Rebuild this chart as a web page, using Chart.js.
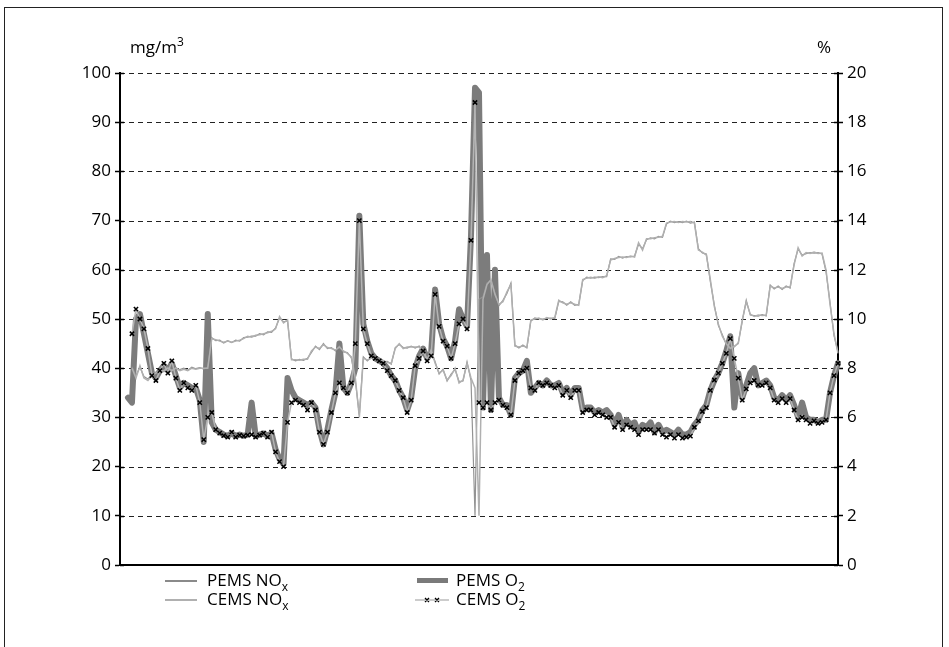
<!DOCTYPE html>
<html>
<head>
<meta charset="utf-8">
<script src="https://cdn.jsdelivr.net/npm/chart.js@4/dist/chart.umd.min.js"></script>
<style>
  html,body{margin:0;padding:0;background:#fff;}
  #wrap{position:relative;width:949px;height:647px;overflow:hidden;font-family:"Open Sans",sans-serif;color:#000;}
  #frame{position:absolute;left:4px;top:7px;width:939px;height:660px;border:1px solid #222;box-sizing:border-box;}
  canvas{position:absolute;left:0;top:0;}
  .lbl{position:absolute;font-size:17px;line-height:20px;white-space:nowrap;}
  .lbl sup{font-size:12px;vertical-align:7px;line-height:0;}
  .lbl sub{font-size:12px;vertical-align:-5px;line-height:0;}
  .sw{position:absolute;}
</style>
</head>
<body>
<div id="wrap">
  <div id="frame"></div>
  <canvas id="c" width="949" height="647"></canvas>
  <div class="lbl" style="left:130px;top:37px;">mg/m<sup>3</sup></div>
  <div class="lbl" style="left:817px;top:37px;">%</div>
  <div class="sw" style="left:165px;top:580px;width:32px;height:1.5px;background:#8a8a8a;"></div>
  <div class="lbl" style="left:207px;top:570px;">PEMS NO<sub>x</sub></div>
  <div class="sw" style="left:165px;top:599px;width:32px;height:1.5px;background:#b0b0b0;"></div>
  <div class="lbl" style="left:207px;top:589px;">CEMS NO<sub>x</sub></div>
  <div class="sw" style="left:417px;top:578px;width:31px;height:5px;background:#7a7a7a;"></div>
  <div class="lbl" style="left:456px;top:570px;">PEMS O<sub>2</sub></div>
  <svg class="sw" style="left:415px;top:594px;" width="36" height="12">
    <line x1="0" y1="6" x2="34" y2="6" stroke="#999" stroke-width="1.2"/>
    <path d="M10 4 L14 8 M14 4 L10 8 M20 4 L24 8 M24 4 L20 8" stroke="#000" stroke-width="1.3"/>
  </svg>
  <div class="lbl" style="left:456px;top:589px;">CEMS O<sub>2</sub></div>
</div>
<script>
// ---- data (x = sample index across the measurement period) ----
const samples = Array.from({length:181}, (_, i) => i);

const leftTicks  = [0,10,20,30,40,50,60,70,80,90,100];   // mg/m3
const rightTicks = [0,2,4,6,8,10,12,14,16,18,20];        // %

const pemsNOx = [null,null,null,
 40.3,38.5,40.2,38.3,37.8,38.8,39.2,39.7,39.3,40.2,39.6,40.1,39.7,40.0,39.6,40.2,39.9,40.1,39.8,40.2,
 46.2,45.6,45.7,45.1,45.6,45.2,45.7,45.5,46.2,46.3,46.5,46.5,47.0,46.8,47.4,47.3,48.2,50.2,49.4,49.6,
 41.9,41.5,41.8,41.6,42.0,43.2,44.5,43.8,45.0,44.0,44.2,43.5,44.5,43.3,43.2,42.1,37.5,30.5,42.3,41.5,
 42.2,41.8,41.9,41.3,41.4,40.8,44.2,44.8,44.2,44.1,44.5,44.1,44.5,43.5,41.9,43.5,41.3,38.8,39.8,37.4,
 38.8,39.7,37.3,37.4,41.3,37.5,10.0,54.0,54.5,57.3,57.8,55.3,52.7,53.8,55.2,57.3,44.7,44.1,44.7,44.1,
 49.6,50.2,50.0,50.0,50.1,50.2,50.1,53.6,53.5,52.8,53.5,52.8,53.0,57.8,58.5,58.3,58.5,58.4,58.6,58.6,
 62.2,62.1,62.7,62.4,62.7,62.6,62.8,65.2,64.3,66.1,66.5,66.3,66.8,66.6,69.3,69.9,69.6,69.8,69.6,69.9,
 69.5,69.7,64.3,63.4,63.2,57.6,52.8,48.7,46.8,44.8,44.2,44.3,45.2,49.5,53.8,50.8,50.7,50.6,50.9,50.6,
 56.9,56.1,56.7,56.0,56.7,56.3,61.3,64.2,63.0,63.3,63.5,63.4,63.5,63.2,59.6,53.4,46.6,43.3];

const cemsNOx = [null,null,null,
 40.0,38.0,40.5,38.0,37.5,38.5,39.0,39.5,39.5,40.0,39.5,40.0,39.5,39.8,39.5,40.0,39.8,40.0,40.0,40.0,
 46.0,45.8,45.5,45.3,45.5,45.3,45.5,45.7,46.0,46.5,46.3,46.7,46.8,47.0,47.2,47.5,48.0,50.5,49.2,49.8,
 41.7,41.7,41.6,41.8,41.8,43.5,44.3,44.0,44.8,44.2,44.0,43.7,44.3,43.5,43.0,42.3,38.0,30.0,42.0,41.7,
 42.0,42.0,41.7,41.5,41.2,41.0,44.0,45.0,44.0,44.3,44.3,44.3,44.3,43.7,41.7,43.7,41.0,39.0,39.6,37.6,
 38.5,40.0,37.0,37.6,41.0,38.0,36.0,10.0,54.0,57.0,58.0,55.0,53.0,53.5,55.5,57.0,44.5,44.3,44.5,44.3,
 49.8,50.0,50.2,49.8,50.3,50.0,50.3,53.8,53.3,53.0,53.3,53.0,52.8,58.0,58.3,58.5,58.3,58.6,58.4,58.8,
 62.0,62.3,62.5,62.6,62.5,62.8,62.6,65.5,64.0,66.3,66.3,66.5,66.6,66.8,69.5,69.7,69.8,69.6,69.8,69.7,
 69.8,69.5,64.0,63.6,63.0,58.0,52.5,49.0,46.5,45.0,44.0,44.5,45.0,49.8,53.5,51.0,50.5,50.8,50.7,50.8,
 56.7,56.3,56.5,56.2,56.5,56.5,61.0,64.5,62.8,63.5,63.3,63.6,63.3,63.4,60.0,53.0,47.0,43.0];

const pemsO2 = [null,null,
 6.8,6.6,10.0,10.2,9.4,8.6,7.8,7.6,7.9,8.1,7.9,8.2,7.7,7.2,7.4,7.3,7.2,7.2,6.7,5.0,10.2,
 5.8,5.5,5.4,5.3,5.25,5.35,5.25,5.3,5.25,5.3,6.6,5.25,5.3,5.35,5.25,5.35,4.7,4.3,4.1,7.6,
 7.1,6.8,6.7,6.6,6.5,6.6,6.4,5.5,4.9,5.5,6.3,7.0,9.0,7.2,7.0,7.4,8.0,14.2,9.8,9.1,
 8.6,8.4,8.3,8.2,8.0,7.7,7.5,7.1,6.8,6.3,6.8,8.0,8.5,8.8,8.4,8.6,11.2,9.8,9.2,8.9,
 8.4,9.1,10.4,10.0,9.7,13.4,19.4,19.2,6.4,12.6,6.3,12.0,6.8,6.5,6.5,6.1,7.6,7.8,7.9,8.3,
 7.0,7.2,7.4,7.3,7.5,7.3,7.3,7.4,7.0,7.2,6.9,7.2,7.2,6.3,6.4,6.4,6.2,6.3,6.2,6.3,
 6.1,5.7,6.1,5.6,5.9,5.7,5.8,5.4,5.7,5.6,5.8,5.4,5.7,5.4,5.5,5.4,5.3,5.5,5.3,5.3,
 5.4,5.7,5.9,6.3,6.5,7.1,7.5,7.8,8.2,8.7,9.3,6.4,7.8,6.8,7.3,7.8,8.0,7.3,7.4,7.5,
 7.3,6.8,6.7,6.9,6.7,6.9,6.5,6.0,6.6,6.0,5.9,5.9,5.8,5.9,5.9,7.0,7.7,8.2];

const cemsO2 = [null,null,null,
 9.4,10.4,10.0,9.6,8.8,7.7,7.5,7.9,8.2,7.8,8.3,7.6,7.1,7.4,7.2,7.1,7.3,6.6,5.1,6.0,
 6.2,5.5,5.36,5.26,5.2,5.4,5.2,5.28,5.24,5.28,5.3,5.2,5.28,5.36,5.2,5.4,4.6,4.2,4.0,5.8,
 6.6,6.7,6.6,6.5,6.3,6.6,6.3,5.4,4.9,5.4,6.2,7.0,7.4,7.2,7.0,7.4,9.0,14.0,9.6,9.0,
 8.5,8.4,8.3,8.2,7.9,7.7,7.5,7.1,6.8,6.2,6.7,8.1,8.4,8.7,8.3,8.5,11.0,9.7,9.1,8.9,
 8.4,9.0,9.8,10.0,9.6,13.2,18.8,6.6,6.4,6.6,6.3,6.6,6.7,6.5,6.4,6.1,7.5,7.8,7.9,8.0,
 7.2,7.1,7.4,7.3,7.4,7.3,7.2,7.3,6.9,7.1,6.8,7.1,7.1,6.2,6.3,6.3,6.1,6.2,6.1,6.0,
 6.0,5.6,5.8,5.5,5.7,5.6,5.5,5.3,5.5,5.5,5.5,5.36,5.5,5.3,5.2,5.3,5.16,5.3,5.16,5.2,
 5.24,5.6,5.86,6.24,6.4,7.1,7.52,7.8,8.2,8.6,9.2,8.4,7.6,6.7,7.16,7.4,7.5,7.32,7.3,7.4,
 7.2,6.7,6.6,6.76,6.6,6.76,6.3,5.9,6.0,5.9,5.76,5.86,5.76,5.8,5.9,7.0,7.7,8.2];

const FONT = "'Open Sans', sans-serif";

new Chart(document.getElementById('c'), {
  type: 'line',
  data: {
    labels: samples,
    datasets: [
      { label: 'CEMS O2', data: cemsO2, yAxisID: 'y1', order: 0,
        borderColor: '#b4b4b4', borderWidth: 1.5, pointStyle: 'crossRot',
        pointRadius: 3, pointBorderColor: '#000', pointBorderWidth: 1.5,
        pointBackgroundColor: '#000', tension: 0, spanGaps: false },
      { label: 'CEMS NOx', data: cemsNOx, yAxisID: 'y', order: 1,
        borderColor: '#b0b0b0', borderWidth: 1.5, pointRadius: 0, tension: 0 },
      { label: 'PEMS NOx', data: pemsNOx, yAxisID: 'y', order: 2,
        borderColor: '#939393', borderWidth: 1.2, pointRadius: 0, tension: 0 },
      { label: 'PEMS O2', data: pemsO2, yAxisID: 'y1', order: 3,
        borderColor: '#7c7c7c', borderWidth: 6, pointRadius: 0, tension: 0,
        borderJoinStyle: 'round', borderCapStyle: 'round' }
    ]
  },
  options: {
    responsive: false,
    animation: false,
    devicePixelRatio: 1,
    layout: { padding: { left: 0, right: 0, top: 73, bottom: 82 } },
    plugins: { legend: { display: false }, tooltip: { enabled: false } },
    scales: {
      x: {
        type: 'category',
        offset: false,
        ticks: { display: false },
        grid: { display: false, drawTicks: false },
        border: { display: true, color: '#000', width: 2 },
        afterFit: s => { s.height = 0; }
      },
      y: {
        position: 'left', min: 0, max: 100,
        afterBuildTicks: s => { s.ticks = leftTicks.map(v => ({ value: v })); },
        ticks: { color: '#000', font: { family: FONT, size: 17 }, padding: 4 },
        grid: { drawOnChartArea: false, tickLength: 5, tickColor: '#000', tickWidth: 1.5 },
        border: { display: true, color: '#000', width: 2 },
        afterFit: s => { s.width = 120; }
      },
      y1: {
        position: 'right', min: 0, max: 20,
        afterBuildTicks: s => { s.ticks = rightTicks.map(v => ({ value: v })); },
        ticks: { color: '#000', font: { family: FONT, size: 17 }, padding: 4 },
        grid: { drawOnChartArea: false, tickLength: 5, tickColor: '#000', tickWidth: 1.5 },
        border: { display: true, color: '#000', width: 2 },
        afterFit: s => { s.width = 111; }
      }
    }
  },
  plugins: [{
    id: 'dashGrid',
    beforeDatasetsDraw(chart) {
      // dashed horizontal gridlines at left-axis ticks, plus small inward tick marks
      const { ctx, chartArea: a, scales: { y } } = chart;
      ctx.save();
      ctx.strokeStyle = '#222';
      ctx.lineWidth = 1;
      ctx.setLineDash([5, 4]);
      leftTicks.forEach(v => {
        if (v === 0) return;
        const py = Math.round(y.getPixelForValue(v)) + 0.5;
        ctx.beginPath(); ctx.moveTo(a.left, py); ctx.lineTo(a.right, py); ctx.stroke();
      });
      ctx.setLineDash([]);
      ctx.lineWidth = 1.5;
      ctx.strokeStyle = '#000';
      leftTicks.forEach(v => {
        const py = Math.round(y.getPixelForValue(v)) + 0.5;
        ctx.beginPath(); ctx.moveTo(a.left, py); ctx.lineTo(a.left + 4, py); ctx.stroke();
        ctx.beginPath(); ctx.moveTo(a.right - 4, py); ctx.lineTo(a.right, py); ctx.stroke();
      });
      ctx.restore();
    }
  }]
});
</script>
</body>
</html>
